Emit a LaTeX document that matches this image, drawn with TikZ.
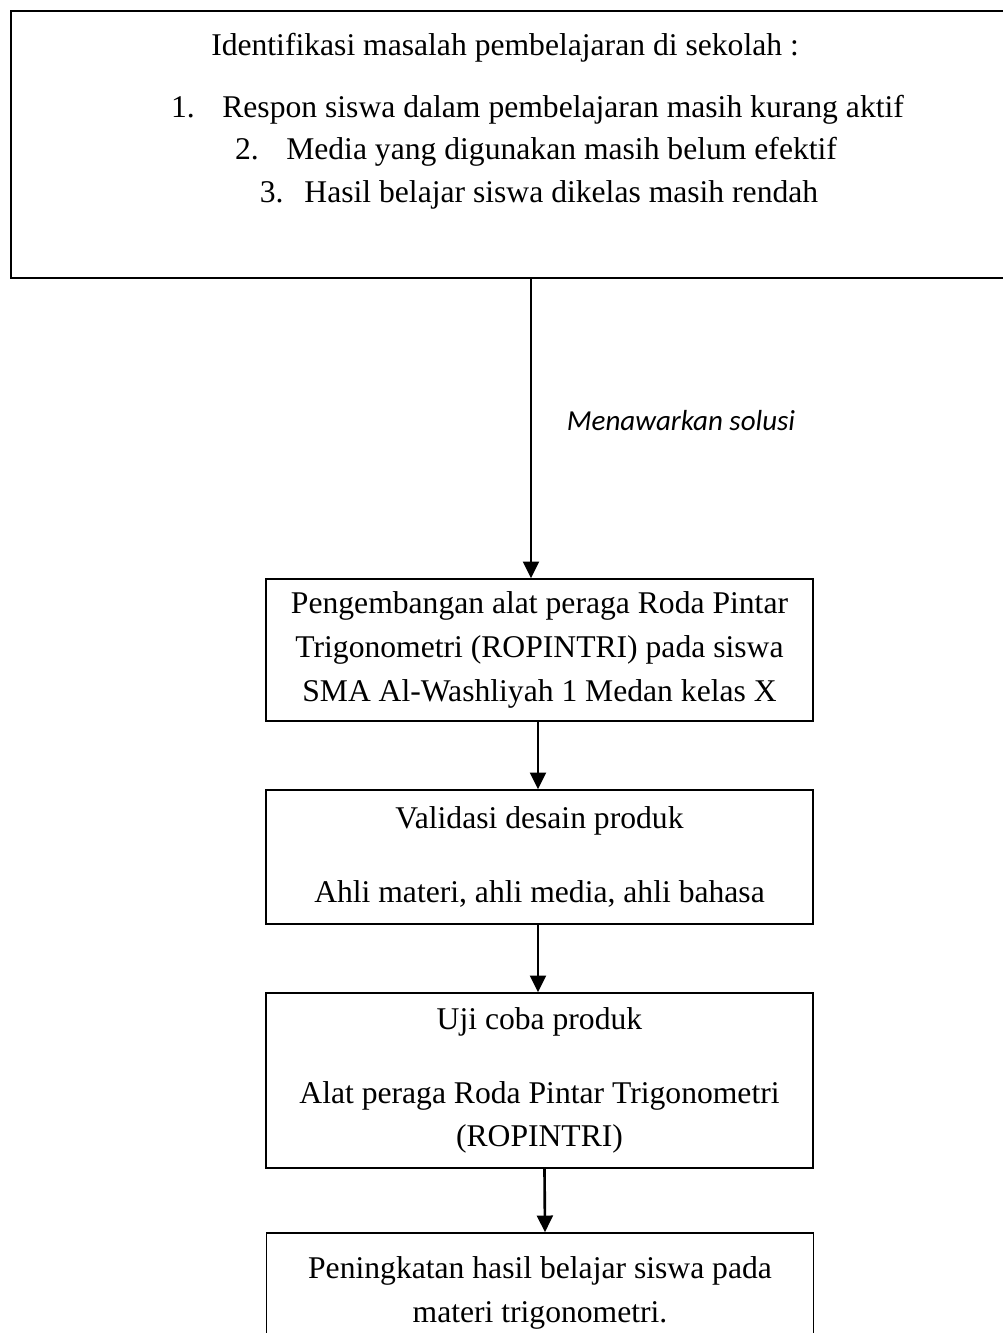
\documentclass[tikz,border=0pt]{standalone}
\usepackage{fontspec}
\setmainfont{Liberation Serif}
\newfontfamily\calibri{Carlito}
\usetikzlibrary{positioning,arrows.meta}

\begin{document}
\begin{tikzpicture}[x=0.02cm,y=-0.02cm,
    box/.style={draw,line width=0.9pt,minimum width=10.94cm,align=center,inner sep=0pt,font=\fontsize{18}{25}\selectfont},
    txt/.style={inner sep=0pt,font=\fontsize{18}{25}\selectfont},
    arr/.style={line width=1.5pt,-{Triangle[length=9.5pt,width=9pt]}}]
            \fill[white] (0,0) rectangle (1003,1333);
            \clip (0,0) rectangle (1003,1333);
            % masalah
            \node[box,minimum width=20.18cm,minimum height=5.34cm] (masalah) at (515.5,144.5) {};
            \node[txt] (judul) at (505,48) {Identifikasi masalah pembelajaran di sekolah :};
            \node[txt] (poin1) at (537.5,110) {1.\hspace{0.55cm}Respon siswa dalam pembelajaran masih kurang aktif};
            \node[txt] (poin2) at (536,152) {2.\hspace{0.55cm}Media yang digunakan masih belum efektif};
            \node[txt] (poin3) at (539,195) {3.\hspace{0.42cm}Hasil belajar siswa dikelas masih rendah};
            % alur
            \node[box,minimum height=2.84cm] (ropintri) at (539.5,650) {Pengembangan alat peraga Roda Pintar\\Trigonometri (ROPINTRI) pada siswa\\SMA Al-Washliyah 1 Medan kelas X};
            \node[box,minimum height=2.68cm] (validasi) at (539.5,857) {Validasi desain produk\\[17pt]Ahli materi, ahli media, ahli bahasa};
            \node[box,minimum height=3.5cm] (ujicoba) at (539.5,1080.5) {Uji coba produk\\[17pt]Alat peraga Roda Pintar Trigonometri\\(ROPINTRI)};
            \node[box,minimum height=2.4cm] (hasil) at (540,1293) {Peningkatan hasil belajar siswa pada\\materi trigonometri.};
            \coordinate (a1) at (531,278);
            \draw[arr] (a1) -- (a1 |- ropintri.north);
            \node[font=\calibri\itshape\fontsize{16.5}{19}\selectfont] (solusi) at (681,421) {Menawarkan solusi};
            \draw[arr] ([xshift=-0.03cm]ropintri.south) -- ([xshift=-0.03cm]validasi.north);
            \draw[arr] ([xshift=-0.03cm]validasi.south) -- ([xshift=-0.03cm]ujicoba.north);
            \draw[arr] ([xshift=0.1cm]ujicoba.south) -- ([xshift=0.1cm]hasil.north);
        \end{tikzpicture}
\end{document}
